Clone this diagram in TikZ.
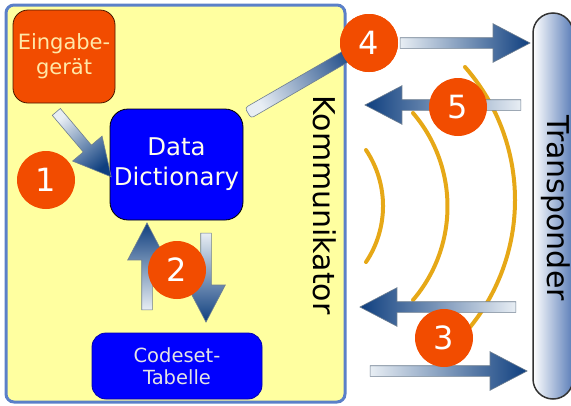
\documentclass[tikz,border=0pt]{standalone}
\usepackage{fontspec}
\setmainfont{DejaVu Sans}
\usetikzlibrary{shapes.arrows,calc}

\definecolor{kommfill}{HTML}{FFFFA0}
\definecolor{kommedge}{HTML}{5B80C8}
\definecolor{signal}{HTML}{F24C00}
\definecolor{signaltext}{HTML}{FFE8A8}
\definecolor{ddblue}{HTML}{0000FF}
\definecolor{cstext}{HTML}{E4E4E4}
\definecolor{arrowdark}{HTML}{0F3F7F}
\definecolor{arrowlight}{HTML}{E8EEF4}
\definecolor{arrowedge}{HTML}{6F7F90}
\definecolor{wave}{HTML}{E6A817}
\definecolor{tpblue}{HTML}{5A7DB8}

% shaded fat arrow / bar between two points
\newcommand{\fatarrow}[2]{%
  \path let \p1=(#1), \p2=(#2), \n1={atan2(\y2-\y1,\x2-\x1)}, \n2={veclen(\x2-\x1,\y2-\y1)} in
    node[fatarrow, minimum height=\n2, rotate=\n1, shading angle=90+\n1] at ($(\p1)!0.5!(\p2)$) {};%
}
\newcommand{\fatbar}[2]{%
  \path let \p1=(#1), \p2=(#2), \n1={atan2(\y2-\y1,\x2-\x1)}, \n2={veclen(\x2-\x1,\y2-\y1)} in
    node[fatbar, minimum width=\n2, rotate=\n1, shading angle=90+\n1] at ($(\p1)!0.5!(\p2)$) {};%
}

\begin{document}
\begin{tikzpicture}[x=1pt, y=-1pt,
  kommbox/.style={draw=kommedge, line width=3pt, fill=kommfill, rounded corners=8pt,
    minimum width=339pt, minimum height=397pt},
  inbox/.style={draw=black!70!signal, line width=0.8pt, fill=signal, rounded corners=15pt,
    minimum width=102pt, minimum height=93pt, text=signaltext, align=center,
    font=\fontsize{21}{25}\selectfont},
  ddbox/.style={draw=black, line width=0.8pt, fill=ddblue, rounded corners=18pt,
    minimum width=133pt, minimum height=111pt, text=white!92!yellow, align=center,
    font=\fontsize{24.4}{30}\selectfont},
  csbox/.style={draw=blue!70!black, line width=0.8pt, fill=ddblue, rounded corners=14pt,
    minimum width=170pt, minimum height=66pt, text=cstext, align=center,
    font=\fontsize{19.5}{22}\selectfont},
  tpbox/.style={draw=black!80, line width=1.5pt, left color=white, right color=tpblue,
    rounded corners=20pt, minimum width=40pt, minimum height=386pt},
  biglabel/.style={font=\fontsize{30}{36}\selectfont, rotate=-90, anchor=base},
  stepnum/.style={circle, fill=signal, minimum size=58pt, inner sep=0pt, text=white,
    font=\fontsize{32}{36}\selectfont},
  fatarrow/.style={single arrow, draw=arrowedge, line width=0.6pt, left color=arrowlight,
    right color=arrowdark, inner xsep=0pt, inner ysep=5pt, minimum width=0pt,
    single arrow head extend=14pt, single arrow tip angle=55},
  fatbar/.style={rectangle, draw=arrowedge, line width=0.6pt, left color=arrowlight,
    right color=arrowdark, inner sep=0pt, minimum height=12pt, rounded corners=3pt},
  wavearc/.style={draw=wave, line width=4pt, line cap=round},
]
  \useasboundingbox (0,0) rectangle (571,405);
  \clip (0,0) rectangle (571,405);

  % Kommunikator with its parts
  \node[kommbox] (komm) at (175.5,203.5) {};
  \node[biglabel] (kommlabel) at (313,205) {Kommunikator};
  \node[inbox] (eingabe) at (64,56.5) {Eingabe-\\gerät};
  \node[ddbox] (dd) at (176.5,164.5) {Data\\Dictionary};
  \node[csbox] (codeset) at (177,366) {Codeset-\\Tabelle};

  % Transponder
  \node[tpbox] (transp) at (553,206) {};
  \node[biglabel] (tplabel) at (547,208) {Transponder};

  % radio waves
  \draw[wavearc] (366,150) arc[start angle=-33.8, end angle=33.8, radius=100.7];
  \draw[wavearc] (413,113) arc[start angle=-40.5, end angle=40.5, radius=144];
  \draw[wavearc] (465,67) arc[start angle=-41.2, end angle=41.2, radius=202];

  % arrow ends
  \coordinate (in-s) at (53,108);
  \coordinate (in-e) at (108,173);
  \coordinate (up-s) at (147,315);
  \coordinate (up-e) at (147,228);
  \coordinate (dn-s) at (206,228);
  \coordinate (dn-e) at (206,317);
  \coordinate (dd-out) at (248,113);
  \coordinate (tx-s) at (395,43);
  \coordinate (tx-e) at (525,43);
  \coordinate (rx-s) at (526,105);
  \coordinate (rx-e) at (370,105);
  \coordinate (up3-s) at (521,307);
  \coordinate (up3-e) at (365,307);
  \coordinate (dn3-s) at (365,371);
  \coordinate (dn3-e) at (522,371);

  % steps
  \node[stepnum] (n4) at (369,43) {};
  \fatarrow{in-s}{in-e}
  \fatarrow{up-s}{up-e}
  \fatarrow{dn-s}{dn-e}
  \fatbar{dd-out}{n4.center}
  \fatarrow{tx-s}{tx-e}
  \fatarrow{rx-s}{rx-e}
  \fatarrow{up3-s}{up3-e}
  \fatarrow{dn3-s}{dn3-e}

  \node[stepnum] at (n4) {4};
  \node[stepnum] (n1) at (46,180) {1};
  \node[stepnum] (n2) at (177,270) {2};
  \node[stepnum] (n3) at (444,338) {3};
  \node[stepnum] (n5) at (458,107) {5};
\end{tikzpicture}
\end{document}
